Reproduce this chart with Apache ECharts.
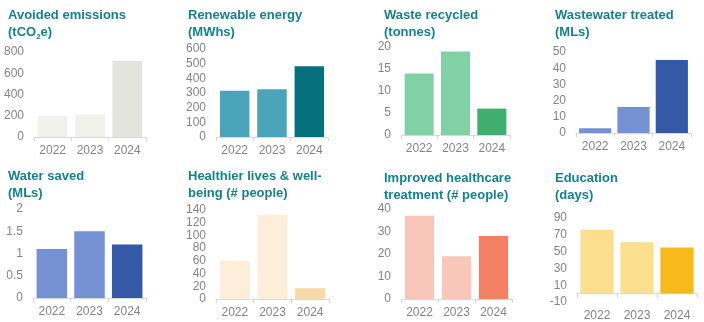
<!DOCTYPE html>
<html><head><meta charset="utf-8">
<script src="https://cdn.jsdelivr.net/npm/echarts@6/dist/echarts.min.js"></script>
<style>html,body{margin:0;padding:0;background:#fff}#c{width:704px;height:322px}</style>
</head><body><div id="c"></div>
<script>
const years = ['2022', '2023', '2024'];
const avoidedEmissions = [200, 210, 715];
const renewableEnergy = [316, 325, 482];
const wasteRecycled = [14, 19, 6];
const wastewaterTreated = [3, 16, 45];
const waterSaved = [1.1, 1.5, 1.2];
const healthierLives = [60, 132, 17];
const improvedHealthcare = [37, 19, 28];
const education = [76, 61, 55];

const titles = [
  'Avoided emissions\n(tCO{sub|2}e)',
  'Renewable energy\n(MWhs)',
  'Waste recycled\n(tonnes)',
  'Wastewater treated\n(MLs)',
  'Water saved\n(MLs)',
  'Healthier lives & well-\nbeing (# people)',
  'Improved healthcare\ntreatment (# people)',
  'Education\n(days)'
];
const seriesData = [avoidedEmissions, renewableEnergy, wasteRecycled, wastewaterTreated,
  waterSaved, healthierLives, improvedHealthcare, education];
const yMin = [0, 0, 0, 0, 0, 0, 0, -10];
const yMax = [800, 600, 20, 50, 2, 140, 40, 90];
const yStep = [200, 100, 5, 10, 0.5, 20, 10, 20];

const colors = [
  ['#f1f1ec', '#f1f1ec', '#e4e4de'],
  ['#4aa5ba', '#4aa5ba', '#06707c'],
  ['#82d1a6', '#82d1a6', '#40ae6e'],
  ['#7491d4', '#7491d4', '#3558a7'],
  ['#7491d4', '#7491d4', '#3558a7'],
  ['#fdeedb', '#fdeedb', '#f9d9aa'],
  ['#f8c7ba', '#f8c7ba', '#f37f64'],
  ['#fbdf8f', '#fbdf8f', '#f7ba1a']
];
const grids = [
  {left: 34, top: 52, width: 112, height: 85},
  {left: 216, top: 49, width: 112, height: 88},
  {left: 401, top: 47, width: 109, height: 88},
  {left: 576, top: 52, width: 115, height: 81},
  {left: 33, top: 209, width: 113, height: 89},
  {left: 216, top: 210, width: 113, height: 89},
  {left: 401, top: 209, width: 111, height: 90},
  {left: 577, top: 218, width: 120, height: 91}
];
const gaps = ['20%', '21%', '20%', '16%', '19%', '20%', '21%', '17%'];
const titlePos = [
  [8, 6.5], [188, 6.5], [384, 6.5], [555, 6.5],
  [8, 167.5], [188, 167.5], [384, 169.5], [555, 169.5]
];

const titleColor = '#17808b';
const labelColor = '#858585';
const font = 'Liberation Sans, Arial, sans-serif';

const option = {
  animation: false,
  title: titles.map((t, i) => ({
    text: t, left: titlePos[i][0], top: titlePos[i][1], padding: 0,
    textStyle: {
      color: titleColor, fontSize: 13, fontWeight: 'bold', fontFamily: font, lineHeight: 17,
      rich: {
        sub: {color: titleColor, fontSize: 8, fontWeight: 'bold', fontFamily: font, lineHeight: 17, verticalAlign: 'bottom', padding: [6, 0, 0, 0]}
      }
    }
  })),
  grid: grids.map(g => Object.assign({containLabel: false}, g)),
  xAxis: grids.map((g, i) => ({
    type: 'category', gridIndex: i, data: years,
    axisLine: {show: true, lineStyle: {color: '#d9d9d9', width: 1}},
    axisTick: {show: true, length: 4, lineStyle: {color: '#d9d9d9'}},
    axisLabel: {color: labelColor, fontSize: 12, fontFamily: font, margin: 8}
  })),
  yAxis: grids.map((g, i) => ({
    type: 'value', gridIndex: i, min: yMin[i], max: yMax[i], interval: yStep[i],
    axisLine: {show: false}, axisTick: {show: false}, splitLine: {show: false},
    axisLabel: {color: labelColor, fontSize: 12, fontFamily: font, margin: 10}
  })),
  series: seriesData.map((d, i) => ({
    type: 'bar', xAxisIndex: i, yAxisIndex: i, barCategoryGap: gaps[i],
    data: d.map((v, j) => ({value: v, itemStyle: {color: colors[i][j]}}))
  }))
};
const chart = echarts.init(document.getElementById('c'), null, {renderer: 'canvas'});
chart.setOption(option);
</script>
</body></html>
